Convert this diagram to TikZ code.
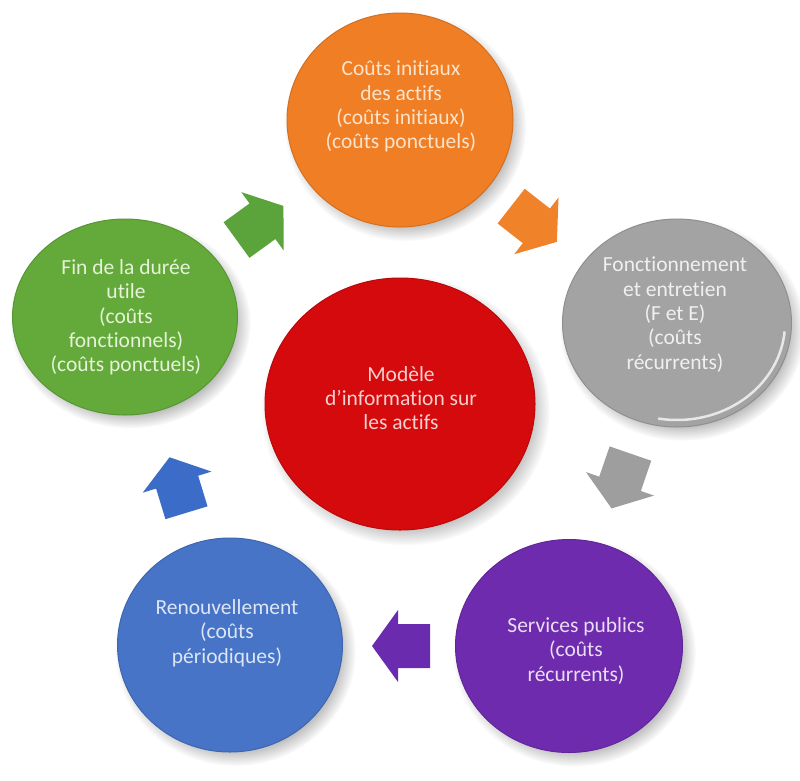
\documentclass[tikz,border=0pt]{standalone}
\usepackage{fontspec}
\setmainfont{Carlito}[Ligatures=NoCommon]
\usetikzlibrary{shapes.geometric,shadows}

% circle fills
\definecolor{OrangeFill}{HTML}{F07E24}
\definecolor{RedFill}{HTML}{D40A0C}
\definecolor{GrayFill}{HTML}{A3A3A3}
\definecolor{GreenFill}{HTML}{64AA3B}
\definecolor{BlueFill}{HTML}{4774C6}
\definecolor{PurpleFill}{HTML}{6F2BAE}
% label colours
\definecolor{OrangeTxt}{HTML}{FCE3CB}
\definecolor{RedTxt}{HTML}{F6CFCF}
\definecolor{GrayTxt}{HTML}{F0F0F0}
\definecolor{GreenTxt}{HTML}{E6F2D9}
\definecolor{BlueTxt}{HTML}{DCE6F6}
\definecolor{PurpleTxt}{HTML}{E9DDF5}
% block arrows
\definecolor{ArrGreen}{HTML}{5BA33B}
\definecolor{ArrOrange}{HTML}{F0822A}
\definecolor{ArrGray}{HTML}{9E9E9E}
\definecolor{ArrPurple}{HTML}{6B2BAE}
\definecolor{ArrBlue}{HTML}{3B6DC8}

\tikzset{
  disc/.style={ellipse, inner sep=0pt, draw=#1!88!black, line width=1pt, fill=#1,
    circular drop shadow={shadow xshift=5pt, shadow yshift=-6pt, shadow scale=1.07, opacity=0.55}},
  lbl/.style={align=center, inner sep=0pt, font=\fontsize{21.5}{24.3}\selectfont},
  blockarrow/.pic={
    \fill[pic actions] (-29,-22) -- (3,-22) -- (3,-36) -- (29,0) -- (3,36) -- (3,22) -- (-29,22) -- cycle;
  }
}

\begin{document}
\begin{tikzpicture}[x=1pt,y=-1pt]
\fill[white] (0,0) rectangle (800,780);
\useasboundingbox (0,0) rectangle (800,780);

% the six discs
\node[disc=OrangeFill, minimum width=226pt, minimum height=214pt] (initial) at (400,120) {};
\node[disc=GrayFill,   minimum width=229pt, minimum height=208pt] (operation) at (677,323) {};
\node[disc=PurpleFill, minimum width=227pt, minimum height=213pt] (utilities) at (569,646) {};
\node[disc=BlueFill,   minimum width=225pt, minimum height=214pt] (renewal) at (230,645) {};
\node[disc=GreenFill,  minimum width=225pt, minimum height=196pt] (endoflife) at (125,317) {};
\node[disc=RedFill,    minimum width=270pt, minimum height=252pt] (model) at (400,404) {};

% light rim along the lower right of the grey disc
\draw[white, opacity=0.75, line width=2.5pt]
  (677,323) ++(-5:108pt and 97pt) arc[start angle=-5, end angle=-100, x radius=108pt, y radius=97pt];

% labels
\node[lbl, text=OrangeTxt] (initialtext) at (401,106.5)
  {Coûts initiaux\\des actifs\\(coûts initiaux)\\(coûts ponctuels)};
\node[lbl, text=RedTxt] (modeltext) at (401,398)
  {Modèle\\d’information sur\\les actifs};
\node[lbl, text=GrayTxt] (operationtext) at (675,314.5)
  {Fonctionnement\\et entretien\\(F et E)\\(coûts\\récurrents)};
\node[lbl, text=GreenTxt] (endoflifetext) at (126,317.5)
  {Fin de la durée\\utile\\(coûts\\fonctionnels)\\(coûts ponctuels)};
\node[lbl, text=BlueTxt] (renewaltext) at (227,633)
  {Renouvellement\\(coûts\\périodiques)};
\node[lbl, text=PurpleTxt] (utilitiestext) at (576,651)
  {Services publics\\(coûts\\récurrents)};

% cycle arrows between the outer discs
\pic[fill=ArrGreen,  rotate=36]   at (260,223) {blockarrow};
\pic[fill=ArrOrange, rotate=-38]  at (534,224) {blockarrow};
\pic[fill=ArrGray,   rotate=-109] at (621,481) {blockarrow};
\pic[fill=ArrPurple, rotate=180]  at (401,646) {blockarrow};
\pic[fill=ArrBlue,   rotate=107]  at (178,485) {blockarrow};
\end{tikzpicture}
\end{document}
